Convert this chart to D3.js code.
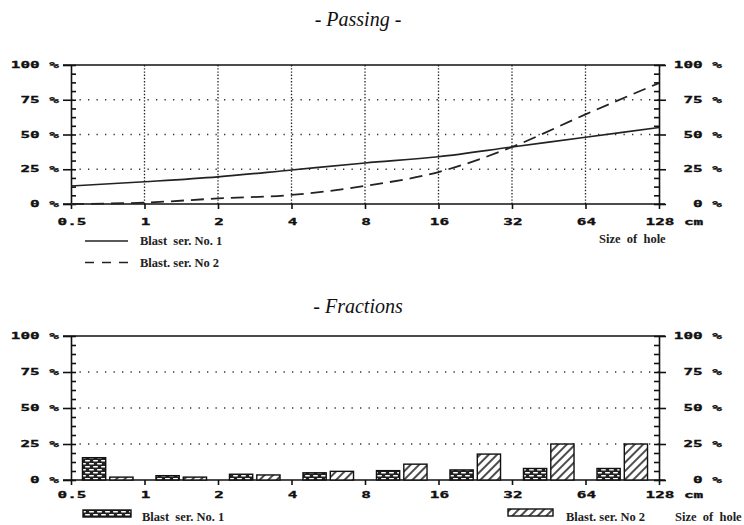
<!DOCTYPE html>
<html>
<head>
<meta charset="utf-8">
<script src="https://cdn.jsdelivr.net/npm/d3@7"></script>
<style>
  body { margin: 0; background: #fff; }
  svg { display: block; }
  .lbl { font-family: "DejaVu Sans Mono", monospace; font-weight: bold; font-size: 10px; fill: #111; stroke: #111; stroke-width: 0.35; }
  .ser { font-family: "Liberation Serif", serif; font-weight: bold; font-size: 12.5px; fill: #222; white-space: pre; }
  .ttl { font-family: "Liberation Serif", serif; font-style: italic; font-size: 20px; fill: #111; }
  .ax path, .ax line { stroke: #111; stroke-width: 1.6; }
</style>
</head>
<body>
<svg id="chart" width="744" height="525"></svg>
<script>
// hole sizes (cm), log2 axis
var sizes = [0.5, 1, 2, 4, 8, 16, 32, 64, 128];
var sizeLabels = ["0.5", "1", "2", "4", "8", "16", "32", "64", "128"];
// cumulative passing (%)
var passing1 = [13, 16, 19.5, 24.5, 29.5, 34, 41, 48, 55];
var passing2 = [0, 1, 4, 6.5, 13, 23, 41, 64.5, 87];
// fractions per size class (%)
var fraction1 = [15.5, 3, 4, 5, 6.5, 7, 8, 8];
var fraction2 = [2, 2, 3.5, 6, 11, 18, 25, 25];
var yTicks = [0, 25, 50, 75, 100];
var seriesNames = ["Blast  ser. No. 1", "Blast. ser. No 2"];

var svg = d3.select("#chart");

var x = d3.scaleLog().base(2).domain([0.5, 128]).range([71, 659]);
var yTop = d3.scaleLinear().domain([0, 100]).range([204, 65]);
var yBot = d3.scaleLinear().domain([0, 100]).range([480, 336]);
var minor = d3.range(0, 100.01, 6.25);

// patterns
var defs = svg.append("defs");
var brick = defs.append("pattern").attr("id", "brick")
  .attr("patternUnits", "userSpaceOnUse").attr("width", 8).attr("height", 6);
brick.append("rect").attr("width", 8).attr("height", 6).attr("fill", "#222");
[[1, 0.9], [-3, 3.9], [5, 3.9]].forEach(function(p) {
  brick.append("rect").attr("x", p[0]).attr("y", p[1]).attr("width", 5).attr("height", 1.5)
    .attr("rx", 0.7).attr("fill", "#fff");
});
var hatch = defs.append("pattern").attr("id", "hatch")
  .attr("patternUnits", "userSpaceOnUse").attr("width", 6).attr("height", 6)
  .attr("patternTransform", "rotate(45)");
hatch.append("rect").attr("width", 6).attr("height", 6).attr("fill", "#fff");
hatch.append("line").attr("x1", 1).attr("y1", 0).attr("x2", 1).attr("y2", 6)
  .attr("stroke", "#111").attr("stroke-width", 1.5);

function wideText(g, px, py, str, anchor) {
  g.append("text")
    .attr("class", "lbl")
    .attr("transform", "translate(" + px + "," + py + ") scale(1.6,0.9)")
    .attr("dy", "0.35em")
    .style("text-anchor", anchor)
    .text(str);
}

// frame, axes and labels for one panel
function panel(y, xLabelY, verticalGrid) {
  var g = svg.append("g");

  // horizontal dotted grid
  g.selectAll(".hgrid").data([25, 50, 75]).enter().append("line")
    .attr("x1", x(0.5)).attr("x2", x(128))
    .attr("y1", function(d) { return y(d); }).attr("y2", function(d) { return y(d); })
    .attr("stroke", "#333").attr("stroke-width", 1.3).attr("stroke-dasharray", "1.3,7.2");

  if (verticalGrid) {
    g.selectAll(".vgrid").data(sizes.slice(1, -1)).enter().append("line")
      .attr("x1", function(d) { return x(d); }).attr("x2", function(d) { return x(d); })
      .attr("y1", y(100)).attr("y2", y(0))
      .attr("stroke", "#222").attr("stroke-width", 1.3).attr("stroke-dasharray", "1.4,1.8");
  }

  // top and bottom frame lines
  g.selectAll(".hline").data([0, 100]).enter().append("line")
    .attr("x1", 63).attr("x2", 665)
    .attr("y1", function(d) { return y(d); }).attr("y2", function(d) { return y(d); })
    .attr("stroke", "#111").attr("stroke-width", 1.7);

  // left axis: major ticks outside, minor inside
  g.append("g").attr("class", "ax").attr("transform", "translate(" + x(0.5) + ",0)")
    .call(d3.axisLeft(y).tickValues(yTicks).tickSize(8).tickSizeOuter(0).tickFormat(""));
  g.append("g").attr("class", "ax").attr("transform", "translate(" + x(0.5) + ",0)")
    .call(d3.axisRight(y).tickValues(minor).tickSize(5).tickFormat(""))
    .select(".domain").remove();

  // right axis: major ticks outside, minor inside
  g.append("g").attr("class", "ax").attr("transform", "translate(" + x(128) + ",0)")
    .call(d3.axisRight(y).tickValues(yTicks).tickSize(7).tickSizeOuter(0).tickFormat(""));
  g.append("g").attr("class", "ax").attr("transform", "translate(" + x(128) + ",0)")
    .call(d3.axisLeft(y).tickValues(minor).tickSize(5).tickFormat(""))
    .select(".domain").remove();

  // bottom ticks
  g.append("g").attr("class", "ax").attr("transform", "translate(0," + y(0) + ")")
    .call(d3.axisBottom(x).tickValues(sizes).tickSize(5).tickFormat(""))
    .select(".domain").remove();

  yTicks.forEach(function(t) {
    wideText(g, 59, y(t), t + " %", "end");
    wideText(g, 722, y(t), t + " %", "end");
  });
  sizes.forEach(function(s, i) {
    wideText(g, x(s) + 1, xLabelY, sizeLabels[i], "middle");
  });
  wideText(g, 684, xLabelY, "cm", "start");
  return g;
}

// ---------- Passing ----------
svg.append("text").attr("class", "ttl").attr("x", 358).attr("y", 26)
  .style("text-anchor", "middle").text("- Passing -");

var passG = panel(yTop, 221.5, true);

var line = d3.line()
  .x(function(d) { return x(d[0]); })
  .y(function(d) { return yTop(d[1]); })
  .curve(d3.curveMonotoneX);

passG.append("path")
  .datum(d3.zip(sizes, passing1))
  .attr("d", line).attr("fill", "none")
  .attr("stroke", "#222").attr("stroke-width", 1.6);
passG.append("path")
  .datum(d3.zip(sizes, passing2))
  .attr("d", line).attr("fill", "none")
  .attr("stroke", "#222").attr("stroke-width", 1.8).attr("stroke-dasharray", "13,7");

// legend
passG.append("line").attr("x1", 85).attr("x2", 128).attr("y1", 241).attr("y2", 241)
  .attr("stroke", "#222").attr("stroke-width", 1.5);
passG.append("line").attr("x1", 85).attr("x2", 128).attr("y1", 262.5).attr("y2", 262.5)
  .attr("stroke", "#222").attr("stroke-width", 1.6).attr("stroke-dasharray", "9,8");
passG.append("text").attr("class", "ser").attr("x", 140).attr("y", 245).text(seriesNames[0]);
passG.append("text").attr("class", "ser").attr("x", 140).attr("y", 266.5).text(seriesNames[1]);
passG.append("text").attr("class", "ser").attr("x", 599).attr("y", 243).text("Size  of  hole");

// ---------- Fractions ----------
svg.append("text").attr("class", "ttl").attr("x", 358).attr("y", 313)
  .style("text-anchor", "middle").text("- Fractions");

var fracG = panel(yBot, 495, false);

var bins = d3.pairs(sizes);
var inner = d3.scaleBand().domain(["s1", "s2"])
  .range([0, x(1) - x(0.5)]).paddingInner(0.15).paddingOuter(0.42);

var barData = [];
bins.forEach(function(b, i) {
  barData.push({ lo: b[0], key: "s1", v: fraction1[i] });
  barData.push({ lo: b[0], key: "s2", v: fraction2[i] });
});

fracG.selectAll(".bar").data(barData).enter().append("rect")
  .attr("x", function(d) { return x(d.lo) + inner(d.key); })
  .attr("y", function(d) { return yBot(d.v); })
  .attr("width", inner.bandwidth())
  .attr("height", function(d) { return yBot(0) - yBot(d.v); })
  .attr("fill", function(d) { return d.key === "s1" ? "url(#brick)" : "url(#hatch)"; })
  .attr("stroke", "#111").attr("stroke-width", 1.4);

// legend
fracG.append("rect").attr("x", 83).attr("y", 510).attr("width", 48).attr("height", 7)
  .attr("fill", "url(#brick)").attr("stroke", "#111").attr("stroke-width", 1.4);
fracG.append("rect").attr("x", 508).attr("y", 509).attr("width", 45).attr("height", 7)
  .attr("fill", "url(#hatch)").attr("stroke", "#111").attr("stroke-width", 1.4);
fracG.append("text").attr("class", "ser").attr("x", 142).attr("y", 521).text(seriesNames[0]);
fracG.append("text").attr("class", "ser").attr("x", 566).attr("y", 521).text(seriesNames[1]);
fracG.append("text").attr("class", "ser").attr("x", 675).attr("y", 521).text("Size  of  hole");
</script>
</body>
</html>
